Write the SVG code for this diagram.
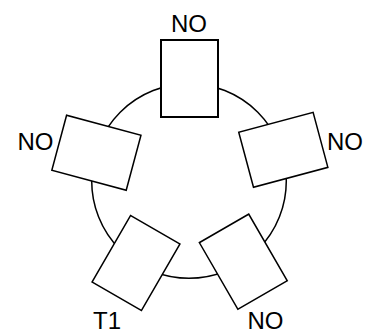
<svg xmlns="http://www.w3.org/2000/svg" width="366" height="334" viewBox="0 0 366 334">
<style>
.n{fill:#fff;stroke:#000;stroke-width:1.5}
.b{stroke-width:2}
.c{fill:none;stroke:#000;stroke-width:1.5}
.t{font-family:"Liberation Sans",Arial,sans-serif;font-size:24px;fill:#000;text-anchor:middle}
</style>
<rect width="366" height="334" fill="#fff"/>
<g id="connectors">
<circle class="c" cx="189" cy="181" r="97.3"/>
</g>
<g id="n1">
<rect class="n b" x="-28.5" y="-38.5" width="57" height="77" transform="translate(189.5,78.5)"/>
<text class="t" x="189" y="31.5">NO</text>
</g>
<g id="n2">
<rect class="n" x="-28.5" y="-38.5" width="57" height="77" transform="translate(283.3,149.8) rotate(75)"/>
<text class="t" x="345" y="150">NO</text>
</g>
<g id="n3">
<rect class="n" x="-28.5" y="-38.5" width="57" height="77" transform="translate(243.3,261.7) rotate(-30)"/>
<text class="t" x="265.5" y="329">NO</text>
</g>
<g id="n4">
<rect class="n" x="-28.5" y="-38.5" width="57" height="77" transform="translate(136,263) rotate(30)"/>
<text class="t" x="107" y="328.5">T1</text>
</g>
<g id="n5">
<rect class="n" x="-28.5" y="-38.5" width="57" height="77" transform="translate(96.4,152.75) rotate(-75)"/>
<text class="t" x="35.5" y="149.5">NO</text>
</g>
</svg>
